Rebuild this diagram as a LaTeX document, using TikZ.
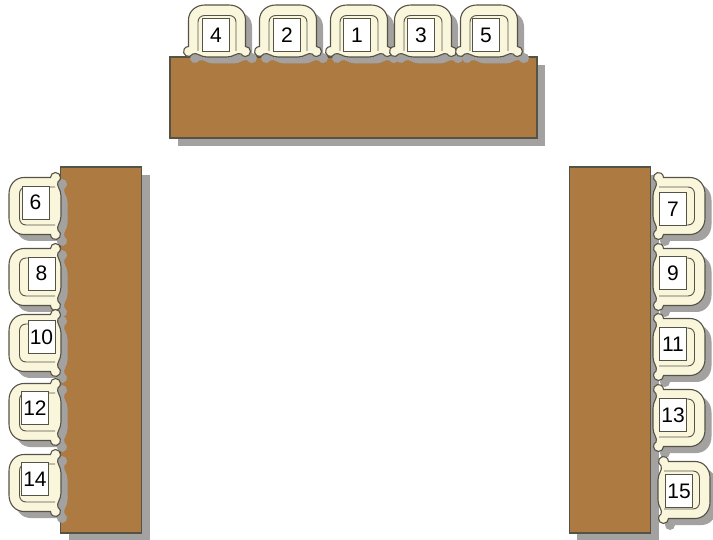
\documentclass[tikz,border=0pt]{standalone}
\usepackage{fontspec}
\setsansfont{Liberation Sans}
\definecolor{tablebrown}{RGB}{173,122,66}
\definecolor{chaircream}{RGB}{250,246,220}
\definecolor{shadowgrey}{RGB}{163,162,160}
\definecolor{edgegrey}{RGB}{85,82,70}
\newcommand{\chairoutline}{(-28.5,-15.5) -- (-28.5,11) .. controls (-28.5,20) and (-21,26) .. (-12,26) -- (12,26) .. controls (21,26) and (28.5,20) .. (28.5,11) -- (28.5,-15.5) arc[start angle=90,end angle=-150,radius=5] .. controls (20,-21) and (17,-26) .. (10,-26) -- (-10,-26) .. controls (-17,-26) and (-20,-21) .. (-24.17,-23) arc[start angle=-30,end angle=-270,radius=5] -- cycle}
\tikzset{
  tablebox/.style={fill=tablebrown,draw=edgegrey,line width=1.1pt,inner sep=0pt},
  tableshadow/.style={fill=shadowgrey},
  seatlabel/.style={draw=edgegrey,fill=white,line width=.9pt,minimum width=27,minimum height=33,inner sep=0pt,font=\sffamily\fontsize{21}{25}\selectfont},
  chair/.pic={
    \draw[fill=chaircream,draw=edgegrey,line width=1.1pt] \chairoutline;
    \draw[edgegrey,line width=.9pt] (-19,-20) -- (-19,9) .. controls (-19,13) and (-16,15.5) .. (-12,15.5) -- (12,15.5) .. controls (16,15.5) and (19,13) .. (19,9) -- (19,-20);
  },
  chairshadow/.pic={
    \fill[shadowgrey] \chairoutline;
  },
}
\begin{document}
\begin{tikzpicture}[x=1pt,y=1pt]
  \useasboundingbox (0,0) rectangle (713,-540);
  % tables
  \fill[tableshadow] (178,-65) rectangle (545,-146);
  \fill[tableshadow] (69,-175) rectangle (150,-540);
  \fill[tableshadow] (577,-175) rectangle (659,-540);
  \node[tablebox,minimum width=367,minimum height=81] (tabletop) at (353.5,-97.5) {};
  \node[tablebox,minimum width=81,minimum height=366] (tableleft) at (101,-350) {};
  \node[tablebox,minimum width=81,minimum height=366] (tableright) at (610,-350) {};
  % chairs: x, y, turn, number, label x, label y
  \foreach \cx/\cy/\turn/\seat/\lx/\ly in {
    217/31/0/4/216/35, 288/31/0/2/287/35, 359/31/0/1/357/35, 423/31/0/3/421/35, 489/31/0/5/486/35,
    35/206/90/6/35.5/202.5, 35/277/90/8/41.5/273.5, 35/343/90/10/41.5/337, 35/412/90/12/35/408, 35/483/90/14/35/479,
    679/206/-90/7/673/209, 679/277/-90/9/673/273, 679/347/-90/11/673/344, 679/418/-90/13/673/415, 684/490/-90/15/679/491}
  {
    \pic[rotate=\turn] at (\cx+6.5,-\cy-6.5) {chairshadow};
    \pic[rotate=\turn] at (\cx,-\cy) {chair};
    \node[seatlabel] (seat\seat) at (\lx,-\ly) {\seat};
  }
\end{tikzpicture}
\end{document}
